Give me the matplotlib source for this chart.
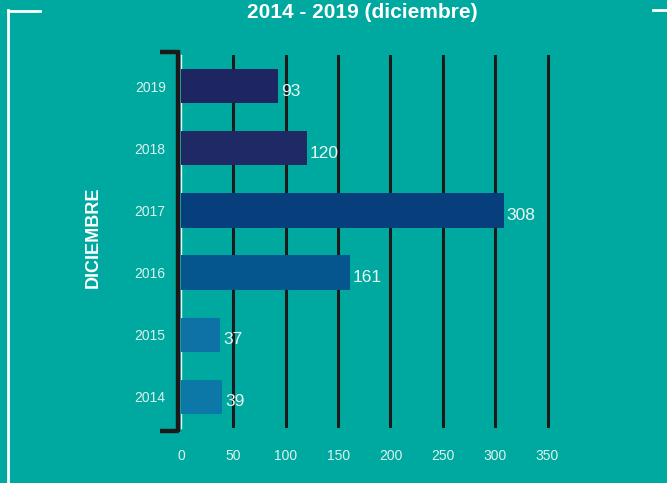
import matplotlib
matplotlib.use("Agg")
import matplotlib.pyplot as plt
from matplotlib.lines import Line2D

# ---- data ------------------------------------------------------------------
years  = ["2014", "2015", "2016", "2017", "2018", "2019"]
values = [39, 37, 161, 308, 120, 93]
colors = ["#0B78A8", "#0E72A6", "#05568F", "#063F7B", "#1F2964", "#1D2661"]
xticks = [0, 50, 100, 150, 200, 250, 300, 350]

BG = "#00A99F"
FONT = ["Liberation Sans Narrow", "Liberation Sans", "DejaVu Sans"]
plt.rcParams["font.family"] = FONT

W, H = 667, 483
fig = plt.figure(figsize=(W / 100, H / 100), dpi=100, facecolor=BG)

# axes box in pixel terms
left, right, top, bottom = 181, 558, 55, 428
ax = fig.add_axes([left / W, 1 - bottom / H, (right - left) / W, (bottom - top) / H])
ax.set_facecolor(BG)
ax.set_xlim(0, 360)
ax.set_ylim(-0.5, 5.5)

ys = list(range(len(years)))
ax.barh(ys, values, height=0.55, color=colors, zorder=3)

# vertical grid lines
for x in xticks[1:]:
    ax.axvline(x, color="#1a1a1a", lw=2.2, zorder=1)

for y, v in zip(ys, values):
    ax.text(v + 3, y - 0.08, str(v), color="#EAF8F6", fontsize=12.5,
            va="center", ha="left", zorder=4)

ax.set_yticks(ys)
ax.set_yticklabels(years)
ax.set_xticks(xticks)
ax.tick_params(axis="both", length=0, colors="#DDF3F0", labelsize=10)
ax.tick_params(axis="y", pad=11)
ax.tick_params(axis="x", pad=15)
for s in ["top", "right", "bottom"]:
    ax.spines[s].set_visible(False)
ax.spines["left"].set_color("white")
ax.spines["left"].set_linewidth(1.0)

# black bracket on the left of the axis
bx = 178 / W
kw = dict(color="#1a1a1a", lw=3.2, solid_capstyle="butt")
fig.add_artist(Line2D([bx, bx], [1 - 432 / H, 1 - 50 / H], **kw))
fig.add_artist(Line2D([160 / W, bx + 1.5 / W], [1 - 51.5 / H, 1 - 51.5 / H], **kw))
fig.add_artist(Line2D([160 / W, bx + 1.5 / W], [1 - 430.5 / H, 1 - 430.5 / H], **kw))

# white frame corners
fig.add_artist(Line2D([7.5 / W, 7.5 / W], [0, 1 - 10 / H], color="white", lw=2))
fig.add_artist(Line2D([7.5 / W, 40 / W], [1 - 10.5 / H, 1 - 10.5 / H], color="white", lw=2))
fig.add_artist(Line2D([653 / W, 1], [1 - 10 / H, 1 - 10 / H], color="white", lw=2))

fig.text(362 / W, 1 - 13 / H, "2014 - 2019 (diciembre)", color="white",
         fontsize=15, fontweight="bold", ha="center", va="center")
fig.text(93 / W, 1 - 237 / H, "DICIEMBRE", color="white", fontsize=13,
         fontweight="bold", rotation=90, ha="center", va="center")

fig.savefig("out.png", dpi=100, facecolor=BG)
